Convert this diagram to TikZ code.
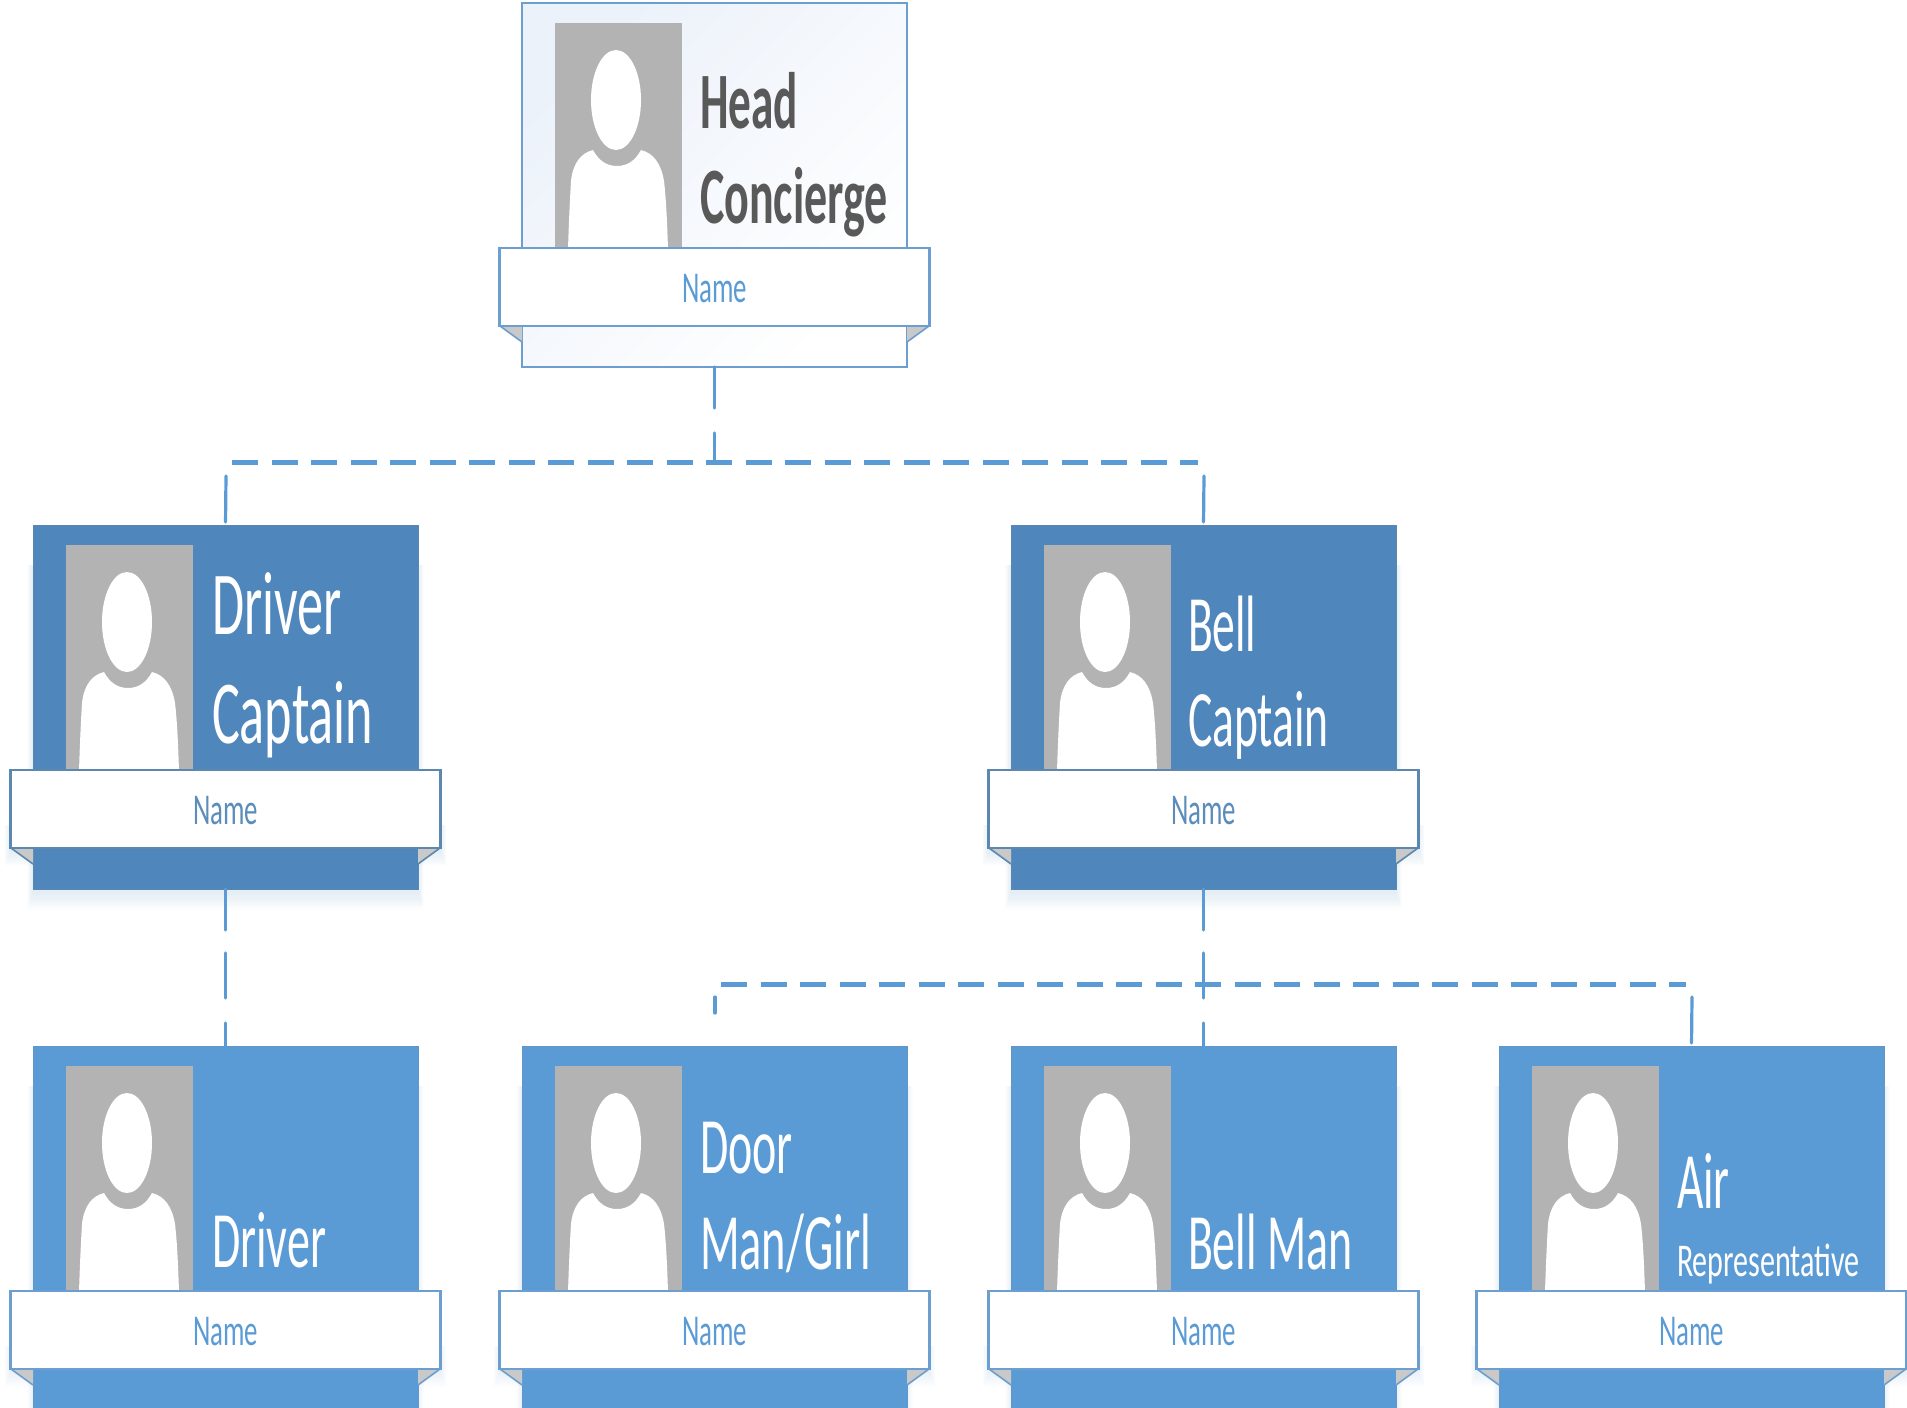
\documentclass[tikz,border=0pt]{standalone}
\usepackage{fontspec}
\setmainfont{Carlito}
\definecolor{midblue}{HTML}{5B9BD5}
\definecolor{darkblue}{HTML}{4F86BB}
\definecolor{edgeblue}{HTML}{6C9FD0}
\definecolor{edgedark}{HTML}{5C87AE}
\definecolor{photogray}{HTML}{B3B3B3}
\definecolor{foldgray}{HTML}{C9C9C9}
\definecolor{headtext}{HTML}{595959}
\definecolor{sheenA}{HTML}{ECF2FA}
\definecolor{sheenB}{HTML}{FAFCFF}
\tikzset{
  cardbox/.style={rectangle,minimum width=385pt,minimum height=364pt,inner sep=0pt,outer sep=0pt},
  headcard/.style={cardbox,draw=edgeblue,line width=2pt,top color=sheenA,middle color=sheenB,bottom color=white,shading angle=45},
  captaincard/.style={cardbox,fill=darkblue,draw=edgedark!80!darkblue,line width=1pt},
  staffcard/.style={cardbox,fill=midblue,draw=midblue!85!gray,line width=1pt},
  bannerbox/.style={rectangle,minimum width=430pt,minimum height=78pt,inner sep=0pt,outer sep=0pt,fill=white,line width=2.2pt},
  vline/.style={draw=midblue,line width=3.2pt,line cap=round},
  busline/.style={draw=midblue,line width=5pt,dash pattern=on 26pt off 13.5pt},
  lbl/.style={inner sep=0pt,outer sep=0pt,anchor=base west},
}
% id, left, top, card style, banner edge, name colour, shadow opacity
\newcommand{\rolecard}[7]{%
  \begin{scope}[shift={(#2,#3)}]
    \foreach \k in {1,...,8}{%
      \fill[darkblue,opacity=#7] ({-\k*.7},{40}) rectangle ({385+\k*.7},{364+3+\k*2.2});
      \fill[darkblue,opacity=#7] ({-22-\k*.8},{300}) rectangle ({407+\k*.8},{325+\k*2});
    }
    \node[#4] (#1) at (192.5,182) {};
    \fill[photogray] (33,20) rectangle (160,246);
    \fill[white] (94,97) ellipse [x radius=25pt,y radius=50pt];
    \fill[white] (46,246) .. controls (47,215) and (48,195) .. (49,178)
      .. controls (51,160) and (59,150) .. (71,147)
      .. controls (77,158) and (85,163) .. (95,163)
      .. controls (105,163) and (113,158) .. (119,147)
      .. controls (131,150) and (139,160) .. (142,178)
      .. controls (144,195) and (145,215) .. (146,246) -- cycle;
    \fill[foldgray] (-22,323) -- (0,323) -- (0,339) -- cycle;
    \fill[foldgray] (407,323) -- (385,323) -- (385,339) -- cycle;
    \draw[#5,line width=1.6pt] (-22,323) -- (0,339) (407,323) -- (385,339);
    \node[bannerbox,draw=#5] (#1b) at (192.5,284) {};
    \node[#6,lbl,anchor=base] (#1n) at (192.5,299) {\fontsize{44pt}{44pt}\selectfont\scalebox{.61}[1]{Name}};
  \end{scope}%
}
\newcommand{\role}[7]{\node[lbl,text=#7] (#1) at (#2,#3) {\fontsize{#4pt}{#4pt}\selectfont\scalebox{#5}[1]{#6}};}
\begin{document}
\begin{tikzpicture}[x=1pt,y=-1pt]
\path[use as bounding box,clip] (0,0) rectangle (1907,1408);
\rolecard{hc}{522}{3}{headcard}{edgeblue}{text=midblue}{0}
\rolecard{dc}{33}{525}{captaincard}{edgedark}{text=edgedark!70!midblue}{.02}
\rolecard{bc}{1011}{525}{captaincard}{edgedark}{text=edgedark!70!midblue}{.02}
\rolecard{dr}{33}{1046}{staffcard}{edgeblue}{text=midblue}{.014}
\rolecard{dm}{522}{1046}{staffcard}{edgeblue}{text=midblue}{.014}
\rolecard{bm}{1011}{1046}{staffcard}{edgeblue}{text=midblue}{.014}
\rolecard{ar}{1499}{1046}{staffcard}{edgeblue}{text=midblue}{.014}
% titles
\role{t1}{700}{128}{80}{.565}{\bfseries Head}{headtext}
\role{t2}{700}{223}{80}{.575}{\bfseries Concierge}{headtext}
\role{t3}{212}{634}{90}{.58}{Driver}{white}
\role{t4}{212}{743}{90}{.58}{Captain}{white}
\role{t5}{1188}{651}{80}{.57}{Bell}{white}
\role{t6}{1188}{746}{80}{.57}{Captain}{white}
\role{t7}{212}{1267}{80}{.575}{Driver}{white}
\role{t8}{700}{1173}{80}{.575}{Door}{white}
\role{t9}{700}{1269}{80}{.58}{Man/Girl}{white}
\role{t10}{1188}{1269}{80}{.573}{Bell Man}{white}
\role{t11}{1677}{1208}{80}{.57}{Air}{white}
\role{t12}{1677}{1276}{47}{.64}{Representative}{white}
% connector points
\coordinate (topbusL) at (232,462);
\coordinate (topbusR) at (1198,462);
\coordinate (topbusM) at (hc.south |- topbusL);
\coordinate (dropDC) at (226,476);
\coordinate (dropBC) at (1204,476);
\coordinate (lowbusL) at (721,984);
\coordinate (lowbusR) at (1686,984);
\coordinate (dropDM) at (715,997);
\coordinate (dropDMe) at (715,1013);
\coordinate (dropAR) at (1692,997);
% connectors
\draw[busline] (topbusL) -- (topbusR);
\draw[busline] (lowbusL) -- (lowbusR);
\draw[vline,dash pattern=on 41pt off 25pt on 30pt off 100pt] (hc.south) -- (topbusM);
\draw[vline,shorten >=3pt] (dropDC) -- (dc.north);
\draw[vline,shorten >=3pt] (dropBC) -- (bc.north);
\draw[vline,dash pattern=on 41pt off 23pt on 45pt off 25pt on 30pt off 100pt] (dc.south) -- (dr.north);
\draw[vline,dash pattern=on 41pt off 23pt on 45pt off 25pt on 30pt off 100pt] (bc.south) -- (bm.north);
\draw[vline] (dropDM) -- (dropDMe);
\draw[vline,shorten >=3pt] (dropAR) -- (ar.north);
\end{tikzpicture}
\end{document}
